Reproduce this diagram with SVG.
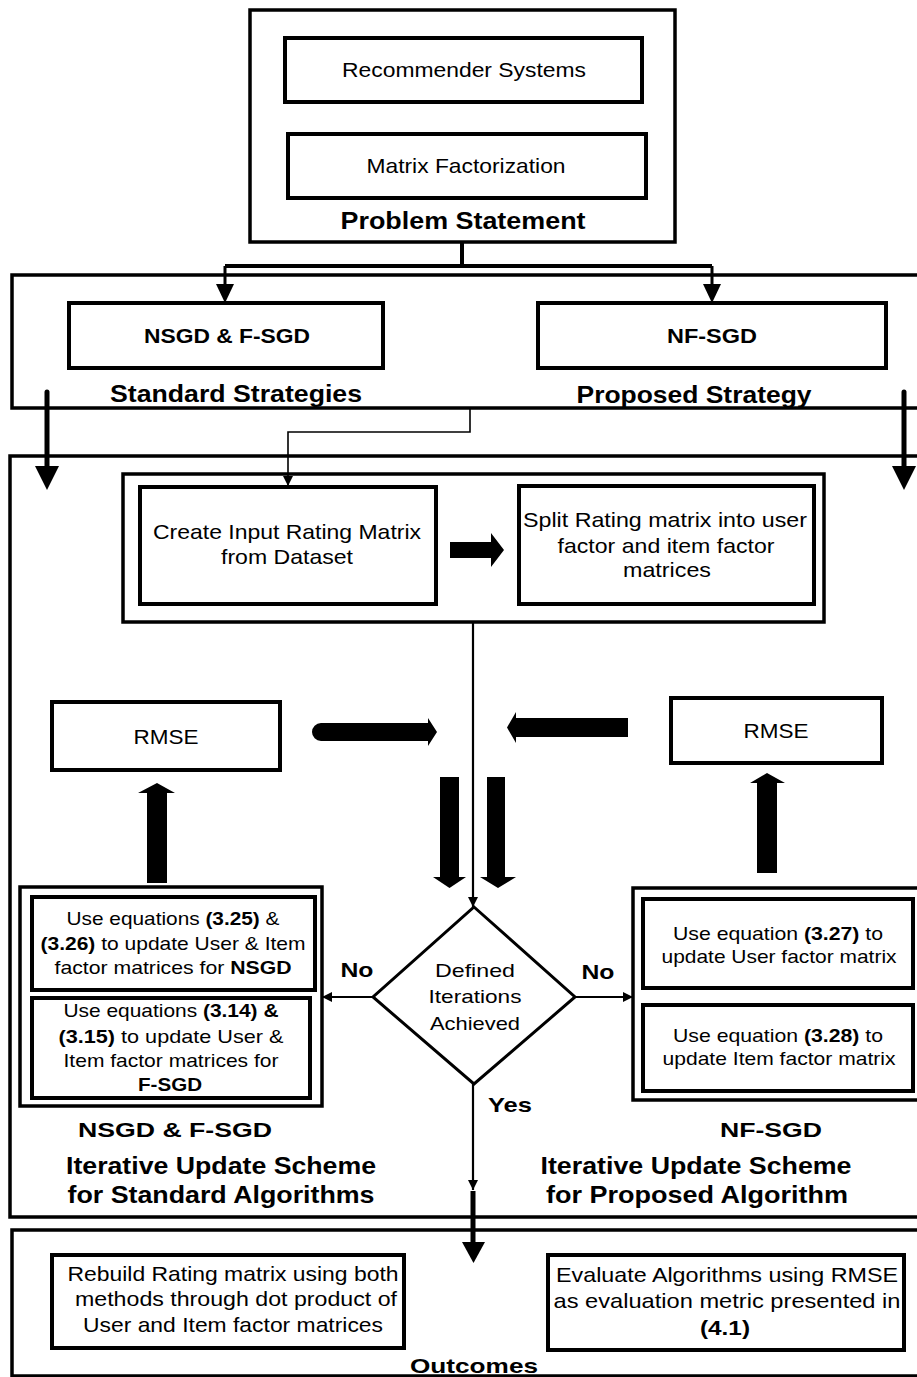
<svg xmlns="http://www.w3.org/2000/svg" width="917" height="1377" viewBox="0 0 917 1377">
  <defs>
    <style>
      .frame { fill: none; stroke: #000; stroke-width: 3.5; }
      .box { fill: #fff; stroke: #000; stroke-width: 4; }
      .line { fill: none; stroke: #000; stroke-width: 2.2; }
      .thick { fill: none; stroke: #000; stroke-width: 5; }
      .solid { fill: #000; stroke: none; }
      text { font-family: "Liberation Sans", Arial, Helvetica, sans-serif; fill: #000; text-anchor: middle; }
      .n { font-size: 21px; }
      .s { font-size: 19px; }
      .h { font-size: 24px; font-weight: bold; }
      .hb { font-size: 21px; font-weight: bold; }
      .b { font-weight: bold; }
    </style>
    <marker id="tri" viewBox="0 0 10 10" refX="10" refY="5" markerWidth="10" markerHeight="10" markerUnits="userSpaceOnUse" orient="auto">
      <path d="M0,0 L10,5 L0,10 Z" fill="#000"/>
    </marker>
  </defs>

  <!-- Section frames -->
  <g id="problem-statement">
    <rect class="frame" x="250" y="10" width="425" height="232"/>
    <text class="h" x="463" y="229" textLength="245" lengthAdjust="spacingAndGlyphs">Problem Statement</text>
  </g>
  <g id="strategies">
    <rect class="frame" x="12" y="275" width="910" height="133"/>
    <text class="h" x="236" y="402" textLength="252" lengthAdjust="spacingAndGlyphs">Standard Strategies</text>
    <text class="h" x="694" y="403" textLength="235" lengthAdjust="spacingAndGlyphs">Proposed Strategy</text>
  </g>
  <g id="update-scheme">
    <rect class="frame" x="10" y="456" width="912" height="761"/>
  </g>
  <g id="outcomes">
    <rect class="frame" x="12" y="1230" width="910" height="146"/>
    <text class="hb" x="474" y="1373" textLength="128" lengthAdjust="spacingAndGlyphs">Outcomes</text>
  </g>

  <!-- Connectors -->
  <g id="connectors">
    <!-- problem statement to strategies -->
    <path class="thick" d="M462,242 V266 M225,266 H712" style="stroke-width:4"/>
    <line class="thick" x1="225" y1="266" x2="225" y2="285" style="stroke-width:3"/>
    <line class="thick" x1="712" y1="266" x2="712" y2="285" style="stroke-width:3"/>
    <path class="solid" d="M216,284 L234,284 L225,303 Z"/>
    <path class="solid" d="M703,284 L721,284 L712,303 Z"/>
    <!-- strategies into the update scheme -->
    <line class="thick" x1="47" y1="392" x2="47" y2="470" stroke-linecap="round"/>
    <path class="solid" d="M35,466 L59,466 L47,490 Z"/>
    <line class="thick" x1="904" y1="392" x2="904" y2="470" stroke-linecap="round"/>
    <path class="solid" d="M892,466 L916,466 L904,490 Z"/>
    <path class="line" d="M470,408 V432 H288 V486" marker-end="url(#tri)" style="stroke-width:1.6"/>
    <!-- create to split -->
    <path class="solid" d="M450,542 H491 V533 L504,550 L491,567 V558 H450 Z"/>
    <!-- main trunk into the decision -->
    <line class="line" x1="473" y1="622" x2="473" y2="907" marker-end="url(#tri)"/>
    <!-- RMSE arrows -->
    <path class="solid" d="M321,723 H428 V718 L437,732 L428,746 V741 H321 A9,9 0 0 1 321,723 Z"/>
    <path class="solid" d="M628,718 H516 V712 L507,727.5 L516,743 V737 H628 Z"/>
    <path class="solid" d="M440,777 H459 V877 H466 L449.5,888 L433,877 H440 Z"/>
    <path class="solid" d="M487,777 H505 V877 H516 L498,888 L480,877 H487 Z"/>
    <path class="solid" d="M147,883 V793 H138 L157,783 L175,793 H167 V883 Z"/>
    <path class="solid" d="M757,873 V783 H750 L767,773 L785,783 H777 V873 Z"/>
    <!-- decision branches -->
    <line class="line" x1="373" y1="997" x2="322" y2="997" marker-end="url(#tri)"/>
    <line class="line" x1="575" y1="997" x2="633" y2="997" marker-end="url(#tri)"/>
    <line class="line" x1="473" y1="1084" x2="473" y2="1190" marker-end="url(#tri)"/>
    <line class="thick" x1="473" y1="1191" x2="473" y2="1246"/>
    <path class="solid" d="M462,1242 L485,1242 L473.5,1263 Z"/>
    <text class="hb" x="357" y="977" textLength="33" lengthAdjust="spacingAndGlyphs">No</text>
    <text class="hb" x="598" y="979" textLength="33" lengthAdjust="spacingAndGlyphs">No</text>
    <text class="hb" x="510" y="1112" textLength="44" lengthAdjust="spacingAndGlyphs">Yes</text>
  </g>

  <!-- Problem statement boxes -->
  <g id="recommender-systems">
    <rect class="box" x="285" y="38" width="357" height="64"/>
    <text class="n" x="464" y="77" textLength="244" lengthAdjust="spacingAndGlyphs">Recommender Systems</text>
  </g>
  <g id="matrix-factorization">
    <rect class="box" x="288" y="134" width="358" height="64"/>
    <text class="n" x="466" y="173" textLength="199" lengthAdjust="spacingAndGlyphs">Matrix Factorization</text>
  </g>

  <!-- Strategy boxes -->
  <g id="nsgd-fsgd">
    <rect class="box" x="69" y="303" width="314" height="65"/>
    <text class="hb" x="227" y="343" textLength="166" lengthAdjust="spacingAndGlyphs">NSGD &amp; F-SGD</text>
  </g>
  <g id="nf-sgd">
    <rect class="box" x="538" y="303" width="348" height="65"/>
    <text class="hb" x="712" y="343" textLength="90" lengthAdjust="spacingAndGlyphs">NF-SGD</text>
  </g>

  <!-- Preparation stage -->
  <g id="preparation">
    <rect class="frame" x="123" y="474" width="701" height="148"/>
  </g>
  <g id="create-matrix">
    <rect class="box" x="140" y="487" width="296" height="117"/>
    <text class="n" x="287" y="539" textLength="268" lengthAdjust="spacingAndGlyphs">Create Input Rating Matrix</text>
    <text class="n" x="287" y="564" textLength="132" lengthAdjust="spacingAndGlyphs">from Dataset</text>
  </g>
  <g id="split-matrix">
    <rect class="box" x="519" y="486" width="295" height="118"/>
    <text class="n" x="665" y="527" textLength="284" lengthAdjust="spacingAndGlyphs">Split Rating matrix into user</text>
    <text class="n" x="666" y="553" textLength="217" lengthAdjust="spacingAndGlyphs">factor and item factor</text>
    <text class="n" x="667" y="577" textLength="88" lengthAdjust="spacingAndGlyphs">matrices</text>
  </g>

  <!-- RMSE boxes -->
  <g id="rmse-standard">
    <rect class="box" x="52" y="702" width="228" height="68"/>
    <text class="n" x="166" y="744" textLength="65" lengthAdjust="spacingAndGlyphs">RMSE</text>
  </g>
  <g id="rmse-proposed">
    <rect class="box" x="671" y="698" width="211" height="65"/>
    <text class="n" x="776" y="738" textLength="65" lengthAdjust="spacingAndGlyphs">RMSE</text>
  </g>

  <!-- Decision -->
  <g id="iterations-check">
    <path d="M474,907 L575,997 L474,1084 L373,997 Z" fill="#fff" stroke="#000" stroke-width="3"/>
    <text class="s" x="475" y="977" textLength="80" lengthAdjust="spacingAndGlyphs">Defined</text>
    <text class="s" x="475" y="1003" textLength="93" lengthAdjust="spacingAndGlyphs">Iterations</text>
    <text class="s" x="475" y="1030" textLength="90" lengthAdjust="spacingAndGlyphs">Achieved</text>
  </g>

  <!-- Standard algorithm updates -->
  <g id="standard-updates">
    <rect class="frame" x="20" y="887" width="302" height="219"/>
    <rect class="box" x="32" y="897" width="283" height="93"/>
    <rect class="box" x="32" y="998" width="278" height="100"/>
    <text class="s" x="173" y="925" textLength="213" lengthAdjust="spacingAndGlyphs">Use equations <tspan class="b">(3.25)</tspan> &amp;</text>
    <text class="s" x="173" y="950" textLength="265" lengthAdjust="spacingAndGlyphs"><tspan class="b">(3.26)</tspan> to update User &amp; Item</text>
    <text class="s" x="173" y="974" textLength="237" lengthAdjust="spacingAndGlyphs">factor matrices for <tspan class="b">NSGD</tspan></text>
    <text class="s" x="171" y="1017" textLength="215" lengthAdjust="spacingAndGlyphs">Use equations <tspan class="b">(3.14) &amp;</tspan></text>
    <text class="s" x="171" y="1043" textLength="225" lengthAdjust="spacingAndGlyphs"><tspan class="b">(3.15)</tspan>  to update User &amp;</text>
    <text class="s" x="171" y="1067" textLength="215" lengthAdjust="spacingAndGlyphs">Item factor matrices for</text>
    <text class="s b" x="170" y="1091" textLength="64" lengthAdjust="spacingAndGlyphs">F-SGD</text>
    <text class="hb" x="175" y="1137" textLength="194" lengthAdjust="spacingAndGlyphs">NSGD &amp; F-SGD</text>
    <text class="h" x="221" y="1174" textLength="310" lengthAdjust="spacingAndGlyphs">Iterative Update Scheme</text>
    <text class="h" x="221" y="1203" textLength="307" lengthAdjust="spacingAndGlyphs">for Standard Algorithms</text>
  </g>

  <!-- Proposed algorithm updates -->
  <g id="proposed-updates">
    <rect class="frame" x="633" y="888" width="290" height="212"/>
    <rect class="box" x="643" y="899" width="270" height="89"/>
    <rect class="box" x="643" y="1005" width="270" height="86"/>
    <text class="s" x="778" y="940" textLength="210" lengthAdjust="spacingAndGlyphs">Use equation <tspan class="b">(3.27)</tspan> to</text>
    <text class="s" x="779" y="963" textLength="235" lengthAdjust="spacingAndGlyphs">update User factor matrix</text>
    <text class="s" x="778" y="1042" textLength="210" lengthAdjust="spacingAndGlyphs">Use equation <tspan class="b">(3.28)</tspan> to</text>
    <text class="s" x="779" y="1065" textLength="233" lengthAdjust="spacingAndGlyphs">update Item factor matrix</text>
    <text class="hb" x="771" y="1137" textLength="102" lengthAdjust="spacingAndGlyphs">NF-SGD</text>
    <text class="h" x="696" y="1174" textLength="311" lengthAdjust="spacingAndGlyphs">Iterative Update Scheme</text>
    <text class="h" x="697" y="1203" textLength="302" lengthAdjust="spacingAndGlyphs">for Proposed Algorithm</text>
  </g>

  <!-- Outcome boxes -->
  <g id="rebuild-matrix">
    <rect class="box" x="52" y="1255" width="352" height="93"/>
    <text class="n" x="233" y="1281" textLength="331" lengthAdjust="spacingAndGlyphs">Rebuild Rating matrix using both</text>
    <text class="n" x="236" y="1306" textLength="322" lengthAdjust="spacingAndGlyphs">methods through dot product of</text>
    <text class="n" x="233" y="1332" textLength="300" lengthAdjust="spacingAndGlyphs">User and Item factor matrices</text>
  </g>
  <g id="evaluate">
    <rect class="box" x="548" y="1255" width="356" height="95"/>
    <text class="n" x="727" y="1282" textLength="342" lengthAdjust="spacingAndGlyphs">Evaluate Algorithms using RMSE</text>
    <text class="n" x="727" y="1308" textLength="347" lengthAdjust="spacingAndGlyphs">as evaluation metric presented in</text>
    <text class="n b" x="725" y="1335" textLength="50" lengthAdjust="spacingAndGlyphs">(4.1)</text>
  </g>
</svg>
